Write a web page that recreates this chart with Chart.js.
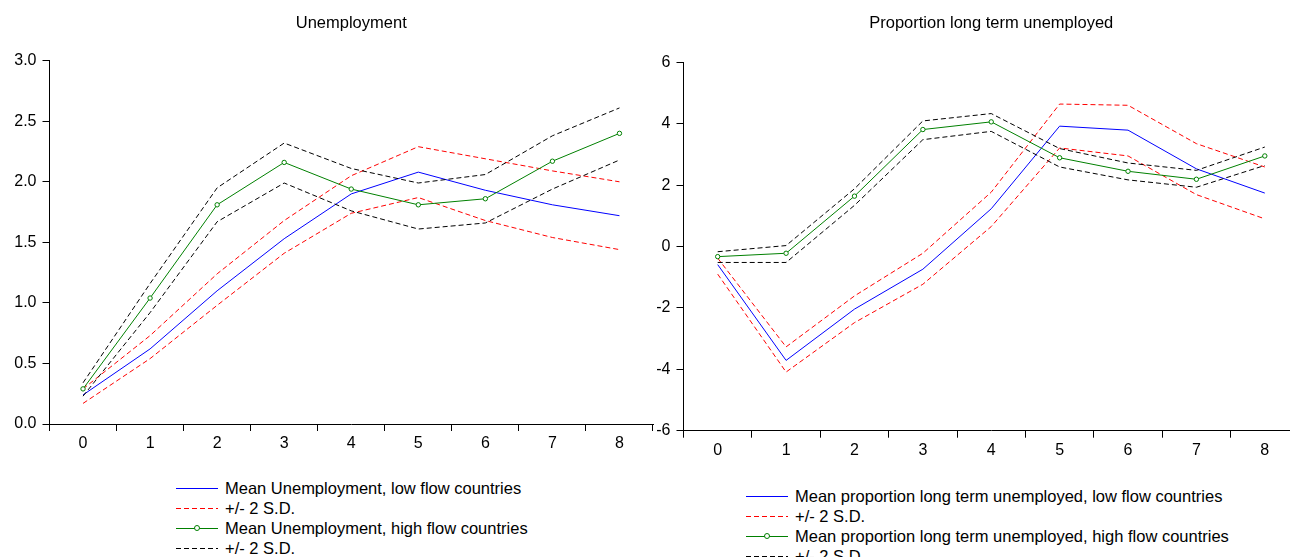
<!DOCTYPE html>
<html>
<head>
<meta charset="utf-8">
<script src="https://cdn.jsdelivr.net/npm/chart.js@4/dist/chart.umd.min.js"></script>
<style>
  html, body { margin: 0; padding: 0; background: #fff; overflow: hidden; width: 1290px; height: 557px; }
  .panel { position: absolute; top: 0; height: 470px; }
  #left-panel { left: 0; width: 660px; }
  #right-panel { left: 640px; width: 670px; }
  .legend { position: absolute; z-index: 5; font-family: "Liberation Sans", Arial, sans-serif; font-size: 16.5px; color: #000; }
  .legend .row { height: 20px; line-height: 20px; white-space: nowrap; position: relative; padding-left: 49px; }
  .legend .sample { position: absolute; left: 0; top: 10px; width: 42px; height: 1px; }
  .legend .marker { position: absolute; left: 18px; top: 7px; width: 4px; height: 4px; border-radius: 50%; background: #fff; border: 1px solid; box-sizing: content-box; }
  #left-legend { left: 176px; top: 478px; }
  #right-legend { left: 746px; top: 486px; }
</style>
</head>
<body>
<div class="panel" id="left-panel"><canvas id="unemployment-chart"></canvas></div>
<div class="panel" id="right-panel"><canvas id="ltu-chart"></canvas></div>
<div class="legend" id="left-legend"></div>
<div class="legend" id="right-legend"></div>
<script>
// horizon (years after the shock)
const categories = ['0', '1', '2', '3', '4', '5', '6', '7', '8'];

// Unemployment, low flow countries
const unempLow      = [0.24, 0.62, 1.10, 1.53, 1.90, 2.08, 1.93, 1.81, 1.72];
const unempLowUpper = [0.29, 0.73, 1.24, 1.68, 2.05, 2.29, 2.19, 2.09, 2.00];
const unempLowLower = [0.17, 0.54, 0.98, 1.41, 1.74, 1.87, 1.68, 1.54, 1.44];
// Unemployment, high flow countries
const unempHigh      = [0.29, 1.04, 1.81, 2.16, 1.94, 1.81, 1.86, 2.17, 2.40];
const unempHighUpper = [0.34, 1.16, 1.95, 2.32, 2.11, 1.99, 2.06, 2.38, 2.61];
const unempHighLower = [0.23, 0.92, 1.67, 1.99, 1.76, 1.61, 1.66, 1.94, 2.18];

// Proportion long term unemployed, low flow countries
const ltuLow      = [-0.59, -3.71, -2.04, -0.74, 1.23, 3.92, 3.79, 2.53, 1.74];
const ltuLowUpper = [-0.38, -3.27, -1.61, -0.22, 1.77, 4.64, 4.60, 3.35, 2.59];
const ltuLowLower = [-0.90, -4.09, -2.48, -1.23, 0.65, 3.21, 2.95, 1.69, 0.90];
// Proportion long term unemployed, high flow countries
const ltuHigh      = [-0.33, -0.22, 1.64, 3.81, 4.06, 2.89, 2.45, 2.19, 2.95];
const ltuHighUpper = [-0.17, 0.03, 1.88, 4.09, 4.33, 3.19, 2.72, 2.48, 3.24];
const ltuHighLower = [-0.52, -0.52, 1.34, 3.48, 3.75, 2.59, 2.17, 1.93, 2.64];

// y tick range
const unempTicks = { min: 0, max: 3, step: 0.5 };
const ltuTicks = { min: -6, max: 6, step: 2 };

const unempLegend = [
  'Mean Unemployment, low flow countries',
  '+/- 2 S.D.',
  'Mean Unemployment, high flow countries',
  '+/- 2 S.D.'
];
const ltuLegend = [
  'Mean proportion long term unemployed, low flow countries',
  '+/- 2 S.D.',
  'Mean proportion long term unemployed, high flow countries',
  '+/- 2 S.D.'
];

const FONT = { family: '"Liberation Sans", Arial, sans-serif', size: 16, weight: 'normal' };
const TITLE_FONT = { family: '"Liberation Sans", Arial, sans-serif', size: 16.5, weight: 'normal' };
const BLUE = '#0000ff';
const RED = '#ff0000';
const GREEN = '#008000';
const BLACK = '#000000';
const DASH = [5, 3];

function main() {
  Chart.defaults.font = FONT;
  Chart.defaults.color = '#000';

  drawChart('unemployment-chart', 'Unemployment', {
    low: unempLow, lowUpper: unempLowUpper, lowLower: unempLowLower,
    high: unempHigh, highUpper: unempHighUpper, highLower: unempHighLower
  }, unempTicks, unempLegend, { yWidth: 49.5, xHeight: 46, right: 7, top: 13.5, titleGap: 27.4 }, 1);

  drawChart('ltu-chart', 'Proportion long term unemployed', {
    low: ltuLow, lowUpper: ltuLowUpper, lowLower: ltuLowLower,
    high: ltuHigh, highUpper: ltuHighUpper, highLower: ltuHighLower
  }, ltuTicks, ltuLegend, { yWidth: 43.5, xHeight: 39.3, right: 11, top: 13.5, titleGap: 29 }, 0);

  drawLegend('left-legend', unempLegend);
  drawLegend('right-legend', ltuLegend);
}

function lineSet(label, data, color, dashed) {
  return {
    label,
    data,
    borderColor: color,
    borderWidth: 1,
    borderDash: dashed ? DASH : [],
    pointRadius: 0,
    tension: 0,
    fill: false
  };
}

function drawChart(canvasId, title, series, ticks, legendLabels, box, decimals) {
  const canvas = document.getElementById(canvasId);

  const high = lineSet(legendLabels[2], series.high, GREEN, false);
  high.pointRadius = 2.2;
  high.pointBorderWidth = 1;
  high.pointBackgroundColor = '#fff';
  high.pointBorderColor = GREEN;

  new Chart(canvas, {
    type: 'line',
    data: {
      labels: categories,
      datasets: [
        high,
        lineSet(legendLabels[3], series.highUpper, BLACK, true),
        lineSet(legendLabels[3], series.highLower, BLACK, true),
        lineSet(legendLabels[0], series.low, BLUE, false),
        lineSet(legendLabels[1], series.lowUpper, RED, true),
        lineSet(legendLabels[1], series.lowLower, RED, true)
      ]
    },
    options: {
      responsive: true,
      maintainAspectRatio: false,
      animation: false,
      layout: { padding: { left: 0, right: box.right, top: box.top, bottom: 0 } },
      plugins: {
        legend: { display: false },
        tooltip: { enabled: false },
        title: {
          display: true,
          text: title,
          fullSize: false,
          font: TITLE_FONT,
          color: '#000',
          padding: { top: 0, bottom: box.titleGap }
        }
      },
      scales: {
        x: {
          type: 'category',
          offset: true,
          grid: { offset: true, drawOnChartArea: false, drawTicks: true, tickLength: 7, color: BLACK },
          border: { display: true, color: BLACK, width: 1 },
          ticks: { font: FONT, color: '#000', padding: 3, maxRotation: 0 },
          afterFit: scale => { scale.height = box.xHeight; }
        },
        y: {
          min: ticks.min,
          max: ticks.max,
          grid: { drawOnChartArea: false, drawTicks: true, tickLength: 7, color: BLACK },
          border: { display: true, color: BLACK, width: 1 },
          ticks: {
            stepSize: ticks.step,
            font: FONT,
            color: '#000',
            padding: 6,
            callback: value => Number(value).toFixed(decimals)
          },
          afterFit: scale => { scale.width = box.yWidth; }
        }
      }
    }
  });
}

function drawLegend(elementId, labels) {
  const styles = [
    { color: BLUE, dashed: false, marker: false },
    { color: RED, dashed: true, marker: false },
    { color: GREEN, dashed: false, marker: true },
    { color: BLACK, dashed: true, marker: false }
  ];
  const el = document.getElementById(elementId);
  labels.forEach((label, i) => {
    const style = styles[i];
    const row = document.createElement('div');
    row.className = 'row';

    const sample = document.createElement('div');
    sample.className = 'sample';
    sample.style.background = style.dashed
      ? 'repeating-linear-gradient(to right, ' + style.color + ' 0 5px, transparent 5px 8px)'
      : style.color;
    row.appendChild(sample);

    if (style.marker) {
      const marker = document.createElement('div');
      marker.className = 'marker';
      marker.style.borderColor = style.color;
      row.appendChild(marker);
    }

    const span = document.createElement('span');
    span.textContent = label;
    row.appendChild(span);
    el.appendChild(row);
  });
}

main();
</script>
</body>
</html>
